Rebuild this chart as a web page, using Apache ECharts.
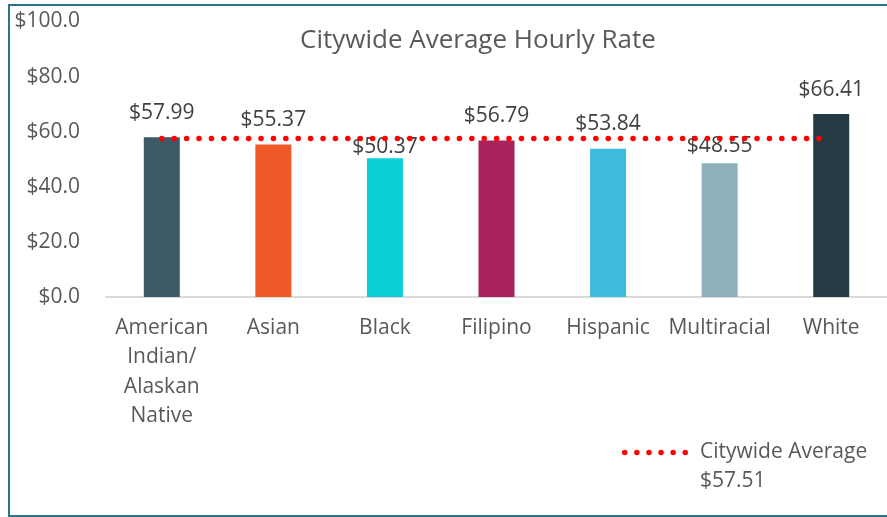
<!DOCTYPE html>
<html>
<head>
<meta charset="utf-8">
<script src="https://cdn.jsdelivr.net/npm/echarts@6/dist/echarts.min.js"></script>
<style>
  html, body { margin: 0; padding: 0; background: #fff; }
  #frame { position: absolute; left: 8px; top: 4px; width: 900px; height: 513px;
           border: 2px solid #2f7288; box-sizing: border-box; }
  #chart { position: absolute; left: 0; top: 0; width: 887px; height: 517px; }
</style>
</head>
<body>
<div id="frame"></div>
<div id="chart"></div>
<script>
// categories shown on the x axis (with Excel style wrapping)
const categories = ['American\nIndian/\nAlaskan\nNative', 'Asian', 'Black', 'Filipino', 'Hispanic', 'Multiracial', 'White']
const rates = [57.99, 55.37, 50.37, 56.79, 53.84, 48.55, 66.41]
const barColors = ['#3d5a66', '#f05a28', '#0ccfd8', '#a8235e', '#3dbbdf', '#8fb1bc', '#263a44']
const citywideAvg = 57.51
const avgLine = categories.map(() => citywideAvg)
const avgName = 'Citywide Average\n$57.51'

const font = 'Open Sans'
const txt = '#595959'

// a couple of data labels sit lower in the original
const labelDist = { 2: 1, 5: 7 }

// six round dots for the legend marker
let dots = ''
for (let k = 0; k < 6; k++) {
  const x = k * 12.1
  dots += 'M' + x + ',2.75a2.75,2.75 0 1,0 5.5,0a2.75,2.75 0 1,0 -5.5,0'
}

const chart = echarts.init(document.getElementById('chart'))

const option = {
  backgroundColor: 'transparent',
  animation: false,
  title: {
    text: 'Citywide Average Hourly Rate',
    left: 473,
    textAlign: 'center',
    top: 23,
    textStyle: { fontFamily: font, fontSize: 26, fontWeight: 'normal', color: txt }
  },
  grid: { left: 106, right: 0, top: 21.5, bottom: 220 },
  legend: {
    left: 622,
    top: 409,
    padding: 0,
    itemWidth: 66,
    itemHeight: 5.5,
    icon: 'path://' + dots,
    data: [avgName],
    formatter: name => '\n' + name,
    textStyle: { fontFamily: font, fontSize: 21, color: txt, lineHeight: 29, padding: [0, 0, 0, 7] }
  },
  xAxis: {
    type: 'category',
    data: categories,
    axisLine: { lineStyle: { color: '#d9d9d9', width: 2 } },
    axisTick: { show: false },
    axisLabel: { fontFamily: font, fontSize: 21, color: txt, lineHeight: 29.5, margin: 16, interval: 0 }
  },
  yAxis: {
    type: 'value',
    min: 0,
    max: 100,
    interval: 20,
    splitLine: { show: false },
    axisLine: { show: false },
    axisLabel: {
      fontFamily: font, fontSize: 21, color: txt, margin: 26,
      formatter: v => '$' + v.toFixed(1)
    }
  },
  series: [
    {
      name: 'rate',
      type: 'bar',
      barWidth: 36,
      data: rates.map((v, i) => {
        const d = { value: v, itemStyle: { color: barColors[i] } }
        if (labelDist[i] !== undefined) d.label = { distance: labelDist[i] }
        return d
      }),
      label: {
        show: true,
        position: 'top',
        distance: 14,
        fontFamily: font, fontSize: 21, color: '#404040',
        formatter: p => '$' + p.value.toFixed(2)
      }
    },
    {
      name: avgName,
      type: 'line',
      data: avgLine,
      symbol: 'none',
      z: 5,
      itemStyle: { color: '#ff0000' },
      lineStyle: { color: '#ff0000', width: 5.5, type: [0.1, 12.3], cap: 'round' }
    }
  ]
}

chart.setOption(option)
</script>
</body>
</html>
